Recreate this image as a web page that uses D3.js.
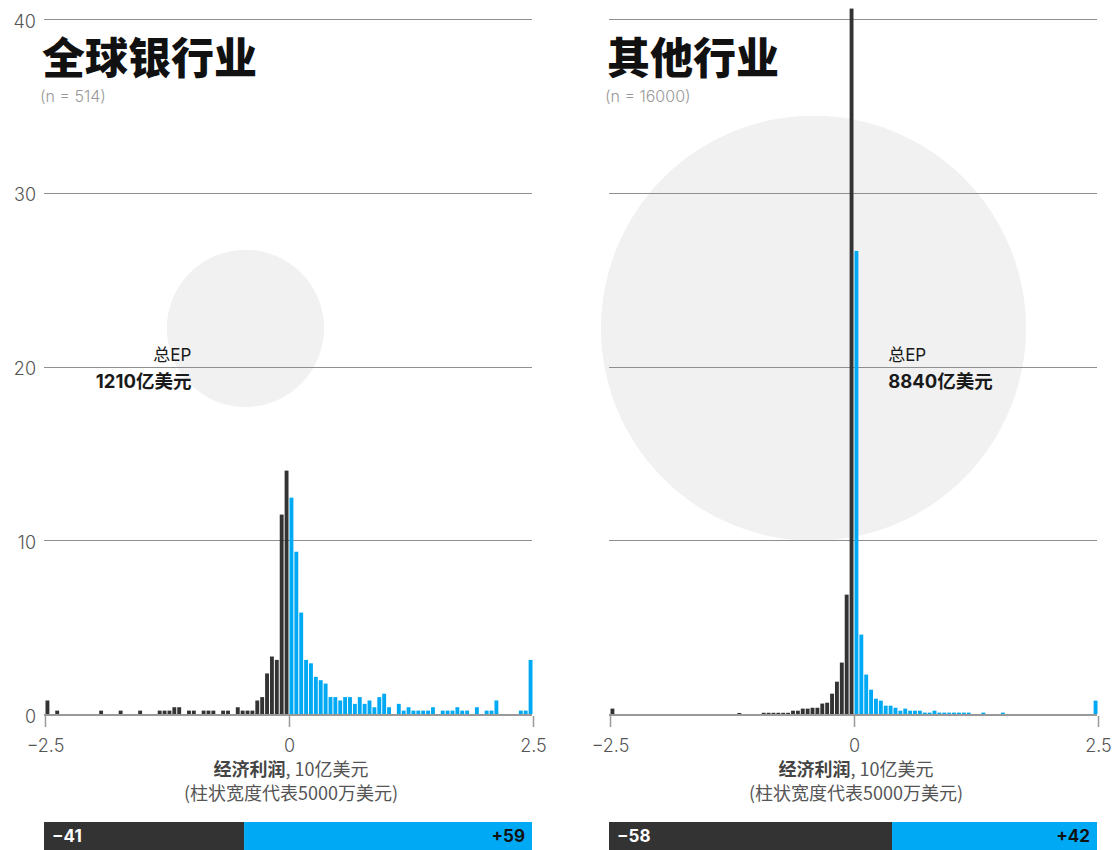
<!DOCTYPE html>
<html>
<head>
<meta charset="utf-8">
<script src="https://cdn.jsdelivr.net/npm/d3@7"></script>
<style>
  body { margin: 0; background: #fff; }
  svg { display: block; }
</style>
</head>
<body>
<svg id="chart" width="1113" height="850"></svg>
<script>
// Distribution of economic profit (EP), $bn, in 100 bins of $50m each.
const panelTitles = ["全球银行业", "其他行业"];
const sampleSizes = [514, 16000];
const totalEP = [1210, 8840];          // 亿美元
const shareNegative = [41, 58];        // % of companies with negative EP
const sharePositive = [59, 42];        // % of companies with positive EP
const xTicks = [-2.5, 0, 2.5];
const yTicks = [0, 10, 20, 30, 40];
const binWidth = 0.05;
const binStarts = d3.range(100).map(i => -2.5 + i * binWidth);

// Number of banks in each bin (n = 514)
const bankCounts = [
  4, 0, 1, 0, 0, 0, 0, 0, 0, 0,
  0, 1, 0, 0, 0, 1, 0, 0, 0, 1,
  0, 0, 0, 1, 1, 1, 2, 2, 0, 1,
  1, 0, 1, 1, 1, 0, 1, 1, 0, 2,
  1, 1, 1, 4, 5, 12, 17, 16, 59, 72,
  64, 48, 30, 16, 15, 11, 10, 9, 5, 5,
  4, 5, 5, 3, 5, 3, 4, 2, 5, 6,
  2, 0, 3, 1, 2, 1, 1, 1, 1, 2,
  0, 1, 1, 1, 2, 1, 1, 0, 2, 0,
  1, 1, 4, 0, 0, 0, 0, 1, 1, 16
];

// Share of companies in each bin, % (n = 16000)
const otherShares = [
  0.31, 0, 0, 0, 0, 0, 0, 0, 0, 0,
  0, 0, 0, 0, 0, 0, 0, 0, 0, 0,
  0, 0, 0, 0, 0, 0, 0.06, 0, 0, 0,
  0, 0.07, 0.07, 0.07, 0.07, 0.07, 0.07, 0.19, 0.19, 0.31,
  0.31, 0.36, 0.36, 0.60, 0.65, 1.17, 1.86, 2.96, 6.87, 40.6,
  26.65, 4.57, 2.27, 1.40, 0.88, 0.77, 0.48, 0.48, 0.36, 0.19,
  0.31, 0.19, 0.19, 0.19, 0.08, 0.08, 0.19, 0.08, 0.08, 0.08,
  0.08, 0.08, 0.08, 0.08, 0, 0, 0.08, 0, 0, 0,
  0.08, 0, 0, 0, 0, 0, 0, 0, 0, 0,
  0, 0, 0, 0, 0, 0, 0, 0, 0, 0.77
];

const bankShares = bankCounts.map(c => c / sampleSizes[0] * 100);
const panelValues = [bankShares, otherShares];

// ---- styling & layout ----
const DARK = "#333333";
const BLUE = "#00a9f4";
const GRID = "#8f8f8f";
const LATIN = "Inter, 'Liberation Sans', Arial, sans-serif";
const CJK = "'Noto Sans CJK SC', 'Noto Sans', sans-serif";
const MIXED = "Inter, 'Noto Sans CJK SC', sans-serif";
const plotW = 488;

const layout = [
  { left: 45, bubble: [-0.446, 22.2], label: { at: -1.0, anchor: "end" } },
  { left: 610, bubble: [-0.415, 22.2], label: { at: 0.35, anchor: "start" } }
];

const svg = d3.select("#chart");
const y = d3.scaleLinear().domain([0, 40]).range([714, 19]);
const r = d3.scaleSqrt().domain([0, d3.max(totalEP)]).range([0, 212.5]);

// y tick labels, shown once on the far left
svg.append("g").selectAll("text")
  .data(yTicks)
  .join("text")
  .attr("x", 36)
  .attr("y", d => y(d) + 8.5)
  .attr("text-anchor", "end")
  .attr("font-family", LATIN)
  .attr("font-size", 18)
  .attr("font-weight", 300)
  .attr("fill", "#555")
  .text(d => d);

panelTitles.forEach((title, p) => {
  const L = layout[p];
  const x = d3.scaleLinear().domain([-2.5, 2.5]).range([L.left, L.left + plotW]);
  const g = svg.append("g");
  const values = panelValues[p];

  // total-EP bubble, area proportional to the total
  g.append("circle")
    .attr("cx", x(L.bubble[0]))
    .attr("cy", y(L.bubble[1]))
    .attr("r", r(totalEP[p]))
    .attr("fill", "#f1f1f1");

  // horizontal gridlines
  g.append("g").selectAll("line")
    .data(yTicks.filter(d => d > 0))
    .join("line")
    .attr("x1", L.left - 1)
    .attr("x2", L.left + plotW - 1)
    .attr("y1", d => Math.round(y(d)) + 0.5)
    .attr("y2", d => Math.round(y(d)) + 0.5)
    .attr("stroke", GRID)
    .attr("stroke-width", 1);

  // bubble label
  const lab = g.append("text")
    .attr("text-anchor", L.label.anchor)
    .attr("fill", "#1a1a1a");
  lab.append("tspan")
    .attr("x", x(L.label.at))
    .attr("y", 361)
    .attr("font-family", MIXED)
    .attr("font-size", 17)
    .text("总EP");
  lab.append("tspan")
    .attr("x", x(L.label.at))
    .attr("y", 388)
    .attr("font-family", MIXED)
    .attr("font-size", 18.5)
    .attr("font-weight", 700)
    .text(`${totalEP[p]}亿美元`);

  // histogram bars
  g.append("g").selectAll("rect")
    .data(binStarts.map((b, i) => ({ b, v: values[i] })).filter(d => d.v > 0))
    .join("rect")
    .attr("x", d => x(d.b) + 0.5)
    .attr("width", d => x(d.b + binWidth) - x(d.b) - 1)
    .attr("y", d => y(d.v))
    .attr("height", d => y(0) - y(d.v))
    .attr("fill", d => d.b < 0 ? DARK : BLUE);

  // baseline
  g.append("line")
    .attr("x1", L.left - 1)
    .attr("x2", L.left + plotW - 1)
    .attr("y1", 715)
    .attr("y2", 715)
    .attr("stroke", "#999")
    .attr("stroke-width", 2);

  // x axis
  const axis = d3.axisBottom(x)
    .tickValues(xTicks)
    .tickSize(11)
    .tickPadding(12)
    .tickFormat(d => d === 0 ? "0" : (d < 0 ? "\u2212" : "") + Math.abs(d));
  const ax = g.append("g")
    .attr("transform", "translate(0,716)")
    .call(axis);
  ax.select(".domain").remove();
  ax.selectAll(".tick line").attr("stroke", "#999").attr("stroke-width", 1.5);
  ax.selectAll(".tick text")
    .attr("font-family", LATIN)
    .attr("font-size", 18)
    .attr("font-weight", 300)
    .attr("fill", "#555");

  // axis title
  const cx = x(0) + 2;
  const t1 = g.append("text")
    .attr("x", cx).attr("y", 776)
    .attr("text-anchor", "middle")
    .attr("font-family", CJK)
    .attr("font-size", 18)
    .attr("fill", "#555");
  t1.append("tspan").attr("font-weight", 700).attr("fill", "#444").text("经济利润");
  t1.append("tspan").text(", 10亿美元");
  g.append("text")
    .attr("x", cx).attr("y", 800)
    .attr("text-anchor", "middle")
    .attr("font-family", CJK)
    .attr("font-size", 18)
    .attr("fill", "#555")
    .text("(柱状宽度代表5000万美元)");

  // title and sample size
  g.append("text")
    .attr("x", L.left - 3).attr("y", 74)
    .attr("font-family", CJK)
    .attr("font-size", 43)
    .attr("font-weight", 900)
    .attr("fill", "#111")
    .text(title);
  g.append("text")
    .attr("x", L.left - 5).attr("y", 102)
    .attr("font-family", LATIN)
    .attr("font-size", 16)
    .attr("font-weight", 300)
    .attr("fill", "#999")
    .text(`(n = ${sampleSizes[p]})`);

  // negative / positive split bar
  const s = d3.scaleLinear().domain([0, 100]).range([L.left - 1, L.left + plotW - 1]);
  const split = [
    { from: 0, to: shareNegative[p], fill: DARK },
    { from: shareNegative[p], to: shareNegative[p] + sharePositive[p], fill: BLUE }
  ];
  g.append("g").selectAll("rect")
    .data(split)
    .join("rect")
    .attr("x", d => s(d.from))
    .attr("width", d => s(d.to) - s(d.from))
    .attr("y", 822)
    .attr("height", 28)
    .attr("fill", d => d.fill);
  g.append("text")
    .attr("x", s(0) + 8).attr("y", 842)
    .attr("font-family", LATIN)
    .attr("font-size", 17)
    .attr("font-weight", 700)
    .attr("fill", "#fff")
    .text(`\u2212${shareNegative[p]}`);
  g.append("text")
    .attr("x", s(100) - 7).attr("y", 842)
    .attr("text-anchor", "end")
    .attr("font-family", LATIN)
    .attr("font-size", 17)
    .attr("font-weight", 700)
    .attr("fill", "#111")
    .text(`+${sharePositive[p]}`);
});
</script>
</body>
</html>
